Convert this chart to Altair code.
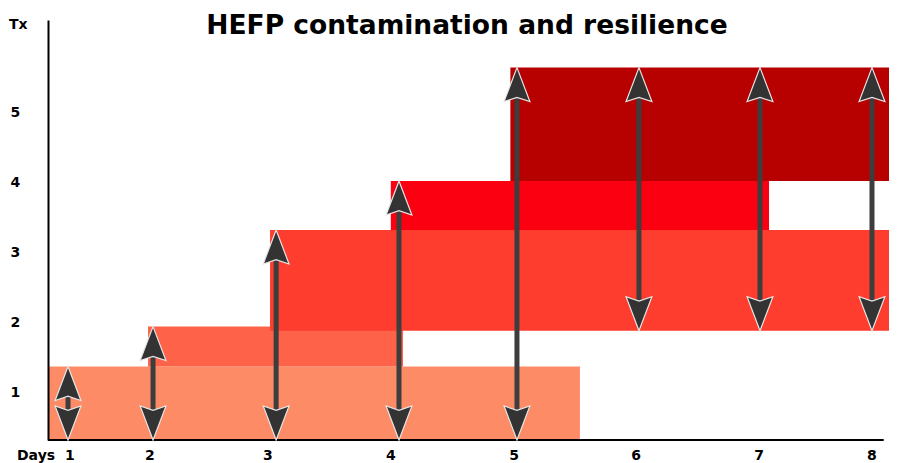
import altair as alt
import pandas as pd

# ---- data ----
days = [1, 2, 3, 4, 5, 6, 7, 8]
day_label_x = [1.31, 1.966, 2.933, 3.941, 4.95, 5.95, 6.958, 7.884]
arrow_x = [1.294, 1.991, 3.0, 4.007, 4.974, 5.974, 6.966, 7.884]
arrow_top = [1.35, 1.92, 3.3, 4.0, 5.62, 5.62, 5.62, 5.62]
arrow_bottom = [0.3, 0.3, 0.3, 0.3, 0.3, 1.86, 1.86, 1.86]

band_names = ["b1", "b2", "b3", "b4", "b5"]
band_x_start = [1.13, 1.95, 2.95, 3.94, 4.92]
band_x_end = [5.49, 4.04, 8.09, 7.04, 8.09]
band_y_low = [0.3, 1.35, 1.86, 3.3, 4.0]
band_y_high = [1.35, 1.92, 3.3, 4.0, 5.62]
band_colors = ["#fd8b66", "#fe6248", "#fe3d2e", "#fa0011", "#b70000"]

y_ticks = [1, 2, 3, 4, 5]
x_domain = [1.13, 8.09]
y_domain = [0.3, 6.3]
x_axis_end = 7.98

FONT = "DejaVu Sans"
PLOT_W = 841  # 122 px per day -> domain max beyond right edge is clipped
PX_PER_DAY = 122.0
x_max_visible = x_domain[0] + PLOT_W / PX_PER_DAY

bands = pd.DataFrame({
    "name": band_names, "x": band_x_start,
    "x2": [min(v, x_max_visible) for v in band_x_end],
    "y": band_y_low, "y2": band_y_high, "color": band_colors,
    "order": list(range(len(band_names))),
})
arrows = pd.DataFrame({"x": arrow_x, "top": arrow_top, "bottom": arrow_bottom})
labels = pd.DataFrame({"x": day_label_x, "day": [str(d) for d in days]})

xs = alt.Scale(domain=[x_domain[0], x_max_visible], nice=False, zero=False)
ys = alt.Scale(domain=y_domain, nice=False, zero=False)
y_axis = alt.Axis(
    values=y_ticks, title=None, grid=False, ticks=False, tickSize=0,
    domain=True, domainColor="black", domainWidth=2,
    labelFont=FONT, labelFontWeight="bold", labelFontSize=14,
    labelColor="black", labelAlign="left", labelPadding=38,
    labelBaseline="middle", labelOffset=1, zindex=1)

rects = alt.Chart(bands).mark_rect(opacity=1).encode(
    x=alt.X("x:Q", scale=xs, axis=None),
    x2="x2",
    y=alt.Y("y:Q", scale=ys, axis=y_axis),
    y2="y2",
    color=alt.Color("color:N", scale=None),
    order="order:Q",
)

xaxis_line = alt.Chart(pd.DataFrame({"a": [x_domain[0]], "b": [x_axis_end], "y": [y_domain[0]]})).mark_rule(
    color="black", strokeWidth=2).encode(
    x=alt.X("a:Q", scale=xs, axis=None), x2="b",
    y=alt.Y("y:Q", scale=ys, axis=y_axis))

shafts = alt.Chart(arrows).mark_rule(color="#3d3d3d", strokeWidth=5, yOffset=-28, y2Offset=28).encode(
    x=alt.X("x:Q", scale=xs, axis=None),
    y=alt.Y("bottom:Q", scale=ys, axis=y_axis),
    y2="top",
)

up_path = "M0,0L0.76,2L0,1.75L-0.76,2Z"
down_path = "M0,0L0.76,-2L0,-1.75L-0.76,-2Z"

heads_up = alt.Chart(arrows).mark_point(
    shape=up_path, size=1156, filled=True, fill="#333333", stroke="#e6e6e6",
    strokeWidth=1.2, opacity=1).encode(
    x=alt.X("x:Q", scale=xs, axis=None),
    y=alt.Y("top:Q", scale=ys, axis=y_axis),
)
heads_down = alt.Chart(arrows).mark_point(
    shape=down_path, size=1156, filled=True, fill="#333333", stroke="#e6e6e6",
    strokeWidth=1.2, opacity=1).encode(
    x=alt.X("x:Q", scale=xs, axis=None),
    y=alt.Y("bottom:Q", scale=ys, axis=y_axis),
)

day_labels = alt.Chart(labels).mark_text(
    font=FONT, fontWeight="bold", fontSize=14, color="black", baseline="middle", align="center").encode(
    x=alt.X("x:Q", scale=xs, axis=None),
    y=alt.value(436),
    text="day:N",
)

days_title = alt.Chart(pd.DataFrame({"t": ["Days"]})).mark_text(
    font=FONT, fontWeight="bold", fontSize=14, color="black", baseline="middle", align="left").encode(
    x=alt.value(-31), y=alt.value(436), text="t:N")

tx_title = alt.Chart(pd.DataFrame({"t": ["Tx"]})).mark_text(
    font=FONT, fontWeight="bold", fontSize=14, color="black", baseline="middle", align="left").encode(
    x=alt.value(-39), y=alt.value(5), text="t:N")

main_title = alt.Chart(pd.DataFrame({"t": ["HEFP contamination and resilience"]})).mark_text(
    font=FONT, fontWeight="bold", fontSize=26.5, color="black", baseline="middle", align="center").encode(
    x=alt.value(419), y=alt.value(6), text="t:N")

chart = alt.layer(
    rects, xaxis_line, shafts, heads_up, heads_down, day_labels, days_title, tx_title, main_title
).properties(
    width=PLOT_W, height=420,
    padding={"left": 40, "top": 12, "right": 0, "bottom": 30},
    autosize=alt.AutoSizeParams(type="none"),
).configure_view(stroke=None)

chart.save("out.html", embed_options={"renderer": "svg", "actions": False})
